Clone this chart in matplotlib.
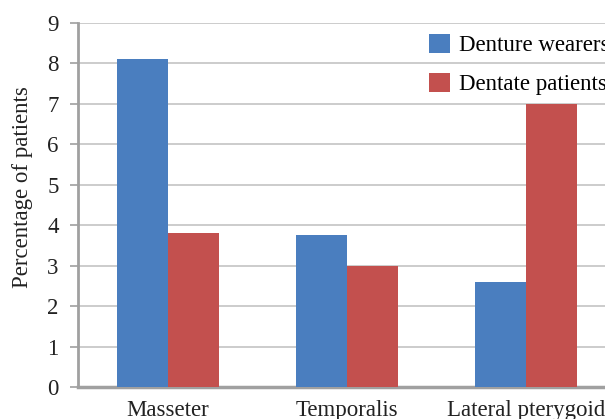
import matplotlib
matplotlib.use("Agg")
import matplotlib.pyplot as plt
import numpy as np

muscles = ["Masseter", "Temporalis", "Lateral pterygoid"]
denture_wearers = [8.1, 3.75, 2.6]
dentate_patients = [3.8, 3.0, 7.0]
series_names = ["Denture wearers", "Dentate patients"]

blue = "#4A7EBF"
red = "#C3504E"
axis_grey = "#A0A0A0"
text_col = "#222222"
fs = 16.5

plt.rcParams['font.family'] = ['Liberation Serif', 'DejaVu Serif']

fig = plt.figure(figsize=(6.05, 4.19), dpi=100)
# axes run past the right edge of the figure
ax = fig.add_axes([78 / 605, 32 / 419, (616 - 78) / 605, (387 - 23) / 419])

x = np.arange(len(muscles))
w = 0.285
ax.bar(x - w / 2, denture_wearers, w, color=blue, label=series_names[0], zorder=3)
ax.bar(x + w / 2, dentate_patients, w, color=red, label=series_names[1], zorder=3)

ax.set_xlim(-0.5, 2.5)
ax.set_ylim(0, 9)
ax.set_yticks(range(10))
ax.set_xticks(x)
ax.set_xticklabels(muscles, fontsize=fs, color=text_col)
ax.tick_params(axis="y", labelsize=fs, labelcolor=text_col, length=6,
               width=1.2, color=axis_grey, pad=8)
ax.tick_params(axis="x", length=0, pad=9)
ax.grid(axis="y", color="#C4C4C4", linewidth=1.2, zorder=0)

for side in ["top", "right"]:
    ax.spines[side].set_visible(False)
ax.spines["left"].set_color(axis_grey)
ax.spines["left"].set_linewidth(2)
ax.spines["bottom"].set_color(axis_grey)
ax.spines["bottom"].set_linewidth(2.5)

ax.set_ylabel("Percentage of patients", fontsize=fs, color=text_col)
ax.yaxis.set_label_coords(-0.083, 0.55)

ax.legend(loc="upper left", bbox_to_anchor=(429 / 605, 1 - 34 / 419),
          bbox_transform=fig.transFigure, frameon=False, fontsize=fs,
          handlelength=0.9, handleheight=0.9, handletextpad=0.4,
          labelspacing=0.72, borderaxespad=0, borderpad=0)

fig.savefig("out.png", dpi=100)
